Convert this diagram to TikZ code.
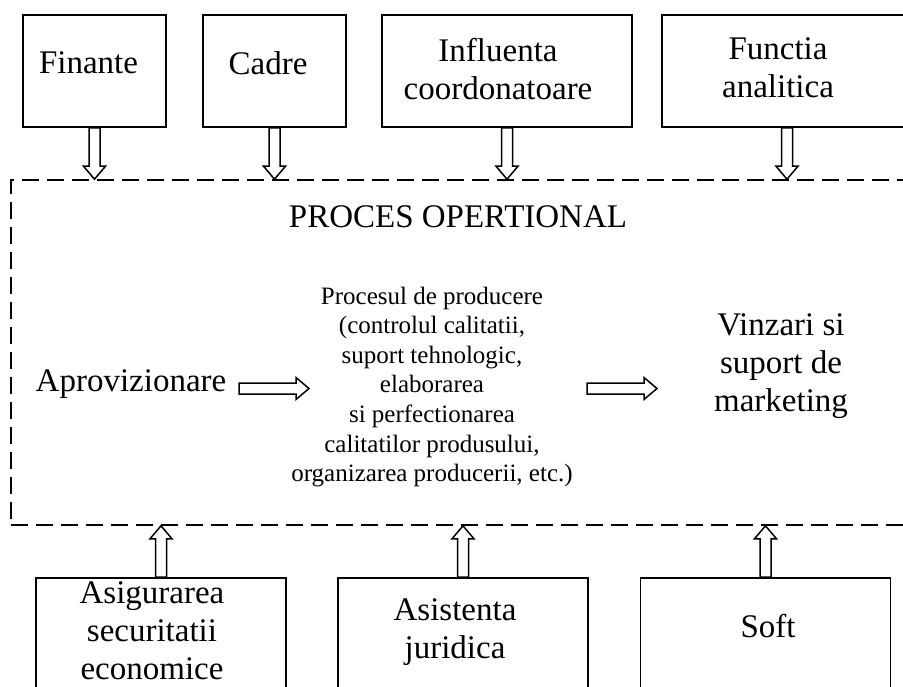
\documentclass[tikz,border=0pt]{standalone}
\usepackage{fontspec}
\setmainfont{Liberation Serif}
\usetikzlibrary{calc}
\begin{document}
\begin{tikzpicture}[x=1pt,y=-1pt,
  box/.style={draw, line width=1.7pt, minimum width=250pt, minimum height=112pt, inner sep=0pt},
  lbl/.style={inner sep=0pt, align=center, font=\fontsize{33}{38}\selectfont},
  small/.style={inner sep=0pt, align=center, font=\fontsize{25}{29.6}\selectfont},
  frame/.style={draw, dash pattern=on 17pt off 8pt, line width=1.6pt, inner sep=0pt},
  fatarrow/.style={draw, fill=white, line width=1.5pt, line join=miter,
    to path={let \p1=($(\tikztotarget)!13pt!(\tikztostart)$) in
      ($(\tikztostart)!5.5pt!90:(\tikztotarget)$)
      -- ($(\p1)!5.5pt!-90:(\tikztostart)$)
      -- ($(\p1)!11pt!-90:(\tikztostart)$)
      -- (\tikztotarget)
      -- ($(\p1)!11pt!90:(\tikztostart)$)
      -- ($(\p1)!5.5pt!90:(\tikztostart)$)
      -- ($(\tikztostart)!5.5pt!-90:(\tikztotarget)$)
      -- cycle}}]
\useasboundingbox (0,0) rectangle (903,686);
\clip (0,0) rectangle (903,686);
\fill[white] (0,0) rectangle (903,686);

% the operational process frame
\node[frame, minimum width=904pt, minimum height=345pt] (proc) at (463,352.5) {};

% resource boxes above
\node[box, minimum width=143pt] (fin) at (94.5,71) {};
\node[box, minimum width=143pt] (cad) at (274.5,71) {};
\node[box] (inf) at (507,71) {};
\node[box] (fun) at (787,71) {};

% support boxes below
\node[box] (asig) at (161,634) {};
\node[box] (asis) at (463,634) {};
\node[box] (soft) at (765.5,634) {};

% texts
\node[lbl] (tfin) at (88.5,63) {Finante};
\node[lbl] (tcad) at (268,63) {Cadre};
\node[lbl] (tinf) at (498,69) {Influenta\\coordonatoare};
\node[lbl] (tfun) at (778,68) {Functia\\analitica};
\node[lbl] (title) at (458,217) {PROCES OPERTIONAL};
\node[lbl] (apr) at (131,384) {Aprovizionare};
\node[small] (prod) at (432,387) {Procesul de producere\\(controlul calitatii,\\suport tehnologic,\\elaborarea\\si perfectionarea\\calitatilor produsului,\\organizarea producerii, etc.)};
\node[lbl] (vin) at (781,366) {Vinzari si\\suport de\\marketing};
\node[lbl] (tasig) at (152,631) {Asigurarea\\securitatii\\economice};
\node[lbl] (tasis) at (455,632) {Asistenta\\juridica};
\node[lbl] (tsoft) at (768,626) {Soft};

% arrow end points
\coordinate (e1) at (fin.south |- proc.north);
\coordinate (e2) at (cad.south |- proc.north);
\coordinate (e3) at (inf.south |- proc.north);
\coordinate (e4) at (fun.south |- proc.north);
\coordinate (e5) at (asig.north |- proc.south);
\coordinate (e6) at (asis.north |- proc.south);
\coordinate (e7) at (soft.north |- proc.south);
\coordinate (h1s) at (239,388.5);
\coordinate (h1e) at (309,388.5);
\coordinate (h2s) at (587,388.5);
\coordinate (h2e) at (657,388.5);

% hollow arrows
\draw[fatarrow] (fin.south) to (e1);
\draw[fatarrow] (cad.south) to (e2);
\draw[fatarrow] (inf.south) to (e3);
\draw[fatarrow] (fun.south) to (e4);
\draw[fatarrow] (asig.north) to (e5);
\draw[fatarrow] (asis.north) to (e6);
\draw[fatarrow] (soft.north) to (e7);
\draw[fatarrow] (h1s) to (h1e);
\draw[fatarrow] (h2s) to (h2e);
\end{tikzpicture}
\end{document}
